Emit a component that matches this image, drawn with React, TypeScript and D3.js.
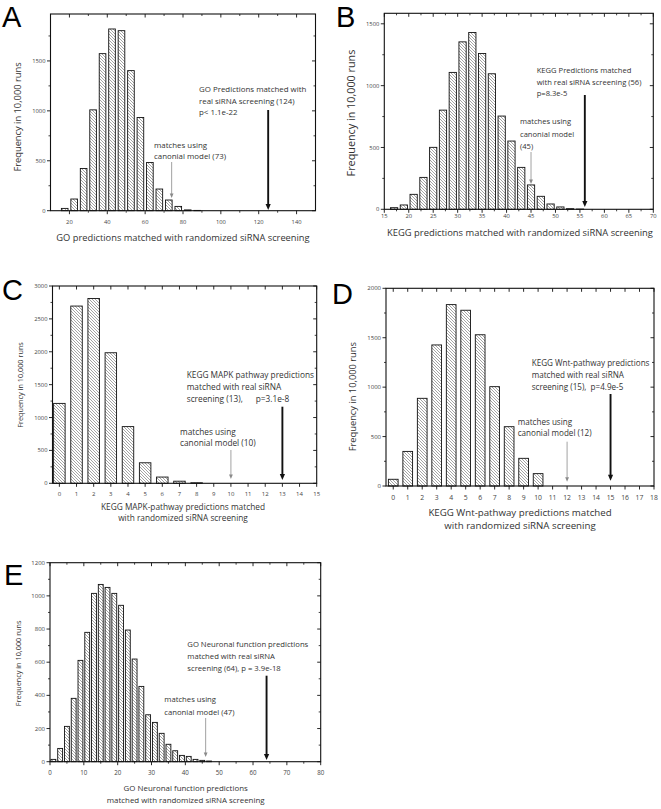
import React from 'react';
import * as d3 from 'd3';

// ---------------- DATA ----------------
// Panel A: GO predictions (bin width 5)
const aBins = [17.5, 22.5, 27.5, 32.5, 37.5, 42.5, 47.5, 52.5, 57.5, 62.5, 67.5, 72.5, 77.5, 82.5, 87.5];
const aFreq = [23, 117, 423, 1010, 1573, 1820, 1803, 1403, 933, 483, 217, 107, 43, 8, 3];
// Panel B: KEGG predictions (bin width 2)
const bBins = [17, 19, 21, 23, 25, 27, 29, 31, 33, 35, 37, 39, 41, 43, 45, 47, 49, 51, 53, 55];
const bFreq = [13, 35, 121, 258, 501, 802, 1107, 1354, 1430, 1260, 1096, 754, 552, 339, 197, 105, 43, 19, 5, 2];
// Panel C: KEGG MAPK pathway (bin width 1)
const cBins = [0, 1, 2, 3, 4, 5, 6, 7, 8];
const cFreq = [1215, 2695, 2810, 1985, 862, 312, 95, 32, 8];
// Panel D: KEGG Wnt pathway (bin width 1)
const dBins = [0, 1, 2, 3, 4, 5, 6, 7, 8, 9, 10];
const dFreq = [68, 350, 887, 1427, 1835, 1778, 1530, 1005, 600, 280, 125];
// Panel E: GO neuronal function (bin width 2)
const eBins = [1, 3, 5, 7, 9, 11, 13, 15, 17, 19, 21, 23, 25, 27, 29, 31, 33, 35, 37, 39, 41, 43, 45, 47];
const eFreq = [14, 80, 213, 382, 611, 780, 1015, 1069, 1051, 1015, 943, 794, 619, 454, 283, 237, 171, 105, 66, 38, 32, 14, 8, 4];

// tick values
const aXMajor = [20, 40, 60, 80, 100, 120, 140];
const aXMinor = [30, 50, 70, 90, 110, 130];
const aYMajor = [0, 500, 1000, 1500];
const aYMinor = [250, 750, 1250, 1750];
const bXMajor = [15, 20, 25, 30, 35, 40, 45, 50, 55, 60, 65, 70];
const bXMinor = [17.5, 22.5, 27.5, 32.5, 37.5, 42.5, 47.5, 52.5, 57.5, 62.5, 67.5];
const bYMajor = [0, 500, 1000, 1500];
const bYMinor = [250, 750, 1250];
const cXMajor = d3.range(0, 16);
const cYMajor = [0, 500, 1000, 1500, 2000, 2500, 3000];
const cYMinor = [250, 750, 1250, 1750, 2250, 2750];
const dXMajor = d3.range(0, 19);
const dYMajor = [0, 500, 1000, 1500, 2000];
const dYMinor = [250, 750, 1250, 1750];
const eXMajor = [0, 10, 20, 30, 40, 50, 60, 70, 80];
const eXMinor = [5, 15, 25, 35, 45, 55, 65, 75];
const eYMajor = [0, 200, 400, 600, 800, 1000, 1200];
const eYMinor = [100, 300, 500, 700, 900, 1100];

// annotation values
const aMarks = { canon: 74, real: 125 };
const bMarks = { canon: 45, real: 56 };
const cMarks = { canon: 10, real: 13 };
const dMarks = { canon: 12, real: 15 };
const eMarks = { canon: 46, real: 64 };

const yTitle = 'Frequency in 10,000 runs';

// ---------------- LAYOUT ----------------
type Cfg = {
  id: string; letter: string; lx: number; ly: number;
  left: number; right: number; top: number; bottom: number;
  xDomain: [number, number]; yDomain: [number, number];
  xMajor: number[]; xMinor: number[]; yMajor: number[]; yMinor: number[];
  bins: number[]; freq: number[]; binW: number; frac: number;
  tickSize: number; xTickY: number; yTickSize: number;
  xTitle: string[]; xTitleX: number; xTitleY: number[]; xTitleSize: number;
  yTitleX: number; yTitleY: number; yTitleSize: number;
  real: string[]; realX: number; realY: number[]; annSize: number; realTop: number; realBot: number;
  canon: string[]; canonX: number; canonY: number[]; canonTop: number; canonBot: number;
  marks: { canon: number; real: number };
};

const panels: Cfg[] = [
  {
    id: 'A', letter: 'A', lx: 2, ly: 26.5,
    left: 50.5, right: 315.5, top: 14, bottom: 210.7,
    xDomain: [10, 150], yDomain: [0, 1970],
    xMajor: aXMajor, xMinor: aXMinor, yMajor: aYMajor, yMinor: aYMinor,
    bins: aBins, freq: aFreq, binW: 5, frac: 0.7,
    tickSize: 5.8, xTickY: 223.5, yTickSize: 5.8,
    xTitle: ['GO predictions matched with randomized siRNA screening'], xTitleX: 183, xTitleY: [241.3], xTitleSize: 9.3,
    yTitleX: 18, yTitleY: 117, yTitleSize: 9.3,
    real: ['GO Predictions matched with', 'real siRNA screening (124)', 'p< 1.1e-22'], realX: 199, realY: [91.8, 103.5, 115.1], annSize: 7.9,
    realTop: 110, realBot: 210,
    canon: ['matches using', 'canonial model (73)'], canonX: 154, canonY: [147.8, 158.8], canonTop: 162, canonBot: 198,
    marks: aMarks,
  },
  {
    id: 'B', letter: 'B', lx: 336, ly: 26.5,
    left: 384.3, right: 653.3, top: 13.3, bottom: 209.3,
    xDomain: [15, 70], yDomain: [0, 1585],
    xMajor: bXMajor, xMinor: bXMinor, yMajor: bYMajor, yMinor: bYMinor,
    bins: bBins, freq: bFreq, binW: 2, frac: 0.74,
    tickSize: 5.8, xTickY: 218, yTickSize: 5.8,
    xTitle: ['KEGG predictions matched with randomized siRNA screening'], xTitleX: 520, xTitleY: [236.3], xTitleSize: 9.4,
    yTitleX: 351.7, yTitleY: 113, yTitleSize: 10.8,
    real: ['KEGG Predictions matched', 'with real siRNA screening (56)', 'p=8.3e-5'], realX: 536.7, realY: [73, 84.7, 96.4], annSize: 7.6,
    realTop: 95, realBot: 207,
    canon: ['matches using', 'canonial model', '(45)'], canonX: 520, canonY: [124.4, 137, 149.4], canonTop: 152, canonBot: 184,
    marks: bMarks,
  },
  {
    id: 'C', letter: 'C', lx: 2, ly: 300,
    left: 52.5, right: 316.7, top: 286, bottom: 483.3,
    xDomain: [-0.4, 15], yDomain: [0, 3000],
    xMajor: cXMajor, xMinor: [], yMajor: cYMajor, yMinor: cYMinor,
    bins: cBins, freq: cFreq, binW: 1, frac: 0.67,
    tickSize: 6, xTickY: 495.5, yTickSize: 5.8,
    xTitle: ['KEGG MAPK-pathway predictions matched', 'with randomized siRNA screening'], xTitleX: 183, xTitleY: [509.5, 521], xTitleSize: 8.3,
    yTitleX: 20, yTitleY: 385, yTitleSize: 7.3,
    real: ['KEGG MAPK pathway predictions', 'matched with real siRNA', 'screening (13),      p=3.1e-8'], realX: 186.7, realY: [377.9, 389.9, 401.9], annSize: 8.3,
    realTop: 406.7, realBot: 480,
    canon: ['matches using', 'canonial model (10)'], canonX: 180, canonY: [434.9, 446.2], canonTop: 450, canonBot: 479,
    marks: cMarks,
  },
  {
    id: 'D', letter: 'D', lx: 332, ly: 304,
    left: 386, right: 654, top: 288.3, bottom: 486,
    xDomain: [-0.5, 18], yDomain: [0, 2000],
    xMajor: dXMajor, xMinor: [], yMajor: dYMajor, yMinor: dYMinor,
    bins: dBins, freq: dFreq, binW: 1, frac: 0.67,
    tickSize: 6.8, xTickY: 499.5, yTickSize: 6,
    xTitle: ['KEGG Wnt-pathway predictions matched', 'with randomized siRNA screening'], xTitleX: 520, xTitleY: [516.4, 529.4], xTitleSize: 9.7,
    yTitleX: 353, yTitleY: 396.7, yTitleSize: 9.3,
    real: ['KEGG Wnt-pathway predictions', 'matched with real siRNA', 'screening (15),  p=4.9e-5'], realX: 531.7, realY: [366.2, 377.9, 389.9], annSize: 8.1,
    realTop: 394, realBot: 480.7,
    canon: ['matches using', 'canonial model (12)'], canonX: 517.7, canonY: [424.5, 435.8], canonTop: 441.7, canonBot: 481.7,
    marks: dMarks,
  },
  {
    id: 'E', letter: 'E', lx: 4, ly: 585,
    left: 50, right: 320.7, top: 562.7, bottom: 761.7,
    xDomain: [0, 80], yDomain: [0, 1200],
    xMajor: eXMajor, xMinor: eXMinor, yMajor: eYMajor, yMinor: eYMinor,
    bins: eBins, freq: eFreq, binW: 2, frac: 0.72,
    tickSize: 6.2, xTickY: 774.5, yTickSize: 6,
    xTitle: ['GO Neuronal function predictions', 'matched with randomized siRNA screening'], xTitleX: 185.7, xTitleY: [791, 803.4], xTitleSize: 7.9,
    yTitleX: 18.3, yTitleY: 663.3, yTitleSize: 7.3,
    real: ['GO Neuronal function predictions', 'matched with real siRNA', 'screening (64), p = 3.9e-18'], realX: 187.3, realY: [647, 659.4, 671], annSize: 7.7,
    realTop: 675.7, realBot: 760,
    canon: ['matches using', 'canonial model (47)'], canonX: 164.3, canonY: [702, 715], canonTop: 718, canonBot: 757,
    marks: eMarks,
  },
];

const FONT = "'Open Sans', 'DejaVu Sans', sans-serif";
const TEXT = '#333';

function Arrow({ x, y0, y1, thick }: { x: number; y0: number; y1: number; thick: boolean }) {
  const hw = thick ? 2.6 : 1.9;
  const hh = thick ? 6 : 4.5;
  const col = thick ? '#111' : '#8a8a8a';
  return (
    <g>
      <line x1={x} x2={x} y1={y0} y2={y1 - hh + 0.5} stroke={col} strokeWidth={thick ? 1.9 : 0.8} />
      <path d={`M${x - hw},${y1 - hh} L${x + hw},${y1 - hh} L${x},${y1} Z`} fill={col} />
    </g>
  );
}

function Panel({ c }: { c: Cfg }) {
  const x = d3.scaleLinear().domain(c.xDomain).range([c.left, c.right]);
  const y = d3.scaleLinear().domain(c.yDomain).range([c.bottom, c.top]);
  const bw = Math.abs(x(c.binW) - x(0)) * c.frac;
  const majL = 3.5, minL = 2;
  return (
    <g>
      {c.bins.map((b, i) => (
        <rect key={i} x={x(b) - bw / 2} y={y(c.freq[i])} width={bw} height={c.bottom - y(c.freq[i])}
          fill="url(#hatch)" stroke="#111" strokeWidth={0.9} />
      ))}
      <rect x={c.left} y={c.top} width={c.right - c.left} height={c.bottom - c.top} fill="none" stroke="#111" strokeWidth={1.1} />
      {c.xMajor.map((v) => (
        <g key={'xm' + v}>
          <line x1={x(v)} x2={x(v)} y1={c.bottom} y2={c.bottom + majL} stroke="#111" strokeWidth={0.9} />
          <line x1={x(v)} x2={x(v)} y1={c.top} y2={c.top + majL} stroke="#111" strokeWidth={0.9} />
          <text x={x(v)} y={c.xTickY} textAnchor="middle" fontSize={c.tickSize} fill="#444">{v}</text>
        </g>
      ))}
      {c.xMinor.map((v) => (
        <g key={'xn' + v}>
          <line x1={x(v)} x2={x(v)} y1={c.bottom} y2={c.bottom + minL} stroke="#111" strokeWidth={0.8} />
          <line x1={x(v)} x2={x(v)} y1={c.top} y2={c.top + minL} stroke="#111" strokeWidth={0.8} />
        </g>
      ))}
      {c.yMajor.map((v) => (
        <g key={'ym' + v}>
          <line x1={c.left - majL} x2={c.left} y1={y(v)} y2={y(v)} stroke="#111" strokeWidth={0.9} />
          <line x1={c.right - majL} x2={c.right} y1={y(v)} y2={y(v)} stroke="#111" strokeWidth={0.9} />
          <text x={c.left - majL - 1.5} y={y(v) + c.yTickSize * 0.35} textAnchor="end" fontSize={c.yTickSize} fill="#444">{v}</text>
        </g>
      ))}
      {c.yMinor.map((v) => (
        <g key={'yn' + v}>
          <line x1={c.left - minL} x2={c.left} y1={y(v)} y2={y(v)} stroke="#111" strokeWidth={0.8} />
          <line x1={c.right - minL} x2={c.right} y1={y(v)} y2={y(v)} stroke="#111" strokeWidth={0.8} />
        </g>
      ))}
      {c.xTitle.map((t, i) => (
        <text key={'xt' + i} x={c.xTitleX} y={c.xTitleY[i]} textAnchor="middle" fontSize={c.xTitleSize} fill={TEXT}>{t}</text>
      ))}
      <text transform={`translate(${c.yTitleX + c.yTitleSize * 0.35},${c.yTitleY}) rotate(-90)`} textAnchor="middle" fontSize={c.yTitleSize} fill={TEXT}>{yTitle}</text>
      {c.real.map((t, i) => (
        <text key={'r' + i} x={c.realX} y={c.realY[i]} fontSize={c.annSize} fill={TEXT} style={{ whiteSpace: 'pre' }}>{t}</text>
      ))}
      {c.canon.map((t, i) => (
        <text key={'c' + i} x={c.canonX} y={c.canonY[i]} fontSize={c.annSize} fill={TEXT} style={{ whiteSpace: 'pre' }}>{t}</text>
      ))}
      <Arrow x={x(c.marks.real)} y0={c.realTop} y1={c.realBot} thick={true} />
      <Arrow x={x(c.marks.canon)} y0={c.canonTop} y1={c.canonBot} thick={false} />
      <text x={c.lx} y={c.ly} fontSize={29} fill="#000" fontFamily="'Liberation Sans', Arial, sans-serif">{c.letter}</text>
    </g>
  );
}

export default function App() {
  return (
    <svg width={661} height={809} viewBox="0 0 661 809"
      style={{ position: 'absolute', left: 0, top: 0, background: '#fff' }} fontFamily={FONT}>
      <defs>
        <pattern id="hatch" patternUnits="userSpaceOnUse" width={3} height={3}>
          <rect width={3} height={3} fill="#fff" />
          <path d="M0,0 L3,3 M-1,2 L1,4 M2,-1 L4,1" stroke="#666" strokeWidth={0.6} />
        </pattern>
      </defs>
      <rect width={661} height={809} fill="#fff" />
      {panels.map((p) => <Panel key={p.id} c={p} />)}
    </svg>
  );
}
